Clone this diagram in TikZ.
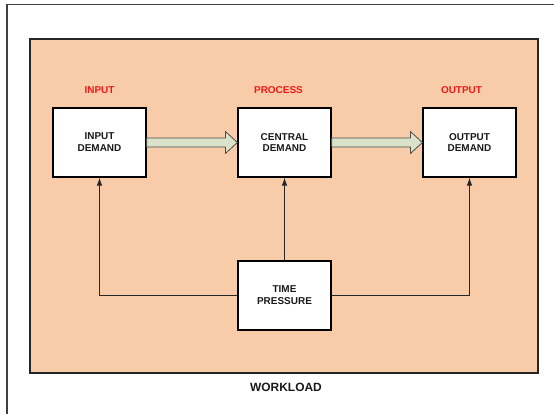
\documentclass[tikz,border=0pt]{standalone}
\usepackage{fontspec}
\setmainfont{Liberation Sans}
\usetikzlibrary{arrows.meta}
\definecolor{workloadfill}{RGB}{248,204,168}
\definecolor{arrowgreen}{RGB}{218,226,202}
\definecolor{stagered}{RGB}{240,24,24}
\begin{document}
\begin{tikzpicture}[x=1bp,y=-1bp,node distance=185bp]
    \tikzstyle{demand}=[draw=black, line width=1.2bp, fill=white, minimum width=93bp, minimum height=69bp, align=center, text=black!90, font=\fontsize{10}{12}\selectfont\bfseries]
    \tikzstyle{stage}=[text=stagered, font=\fontsize{10}{12}\selectfont\bfseries]
    \tikzstyle{fatarrow}=[draw=black!70, fill=arrowgreen, line width=0.8bp, line join=miter]
    \tikzstyle{feed}=[draw=black!85, line width=0.8bp, -{Latex[length=8bp,width=5.5bp]}]

    \useasboundingbox (0,0) rectangle (554,414);
    \draw[black!75, line width=1.5bp] (7,414) -- (7,4.5) -- (554,4.5);
    \draw[fill=workloadfill, draw=black!85, line width=1.2bp] (30,39) rectangle (538,373);

    \node[demand] (inputdemand) at (99.5,142.5) {INPUT\\DEMAND};
    \node[demand, right of=inputdemand] (central) {CENTRAL\\DEMAND};
    \node[demand, right of=central] (outputdemand) {OUTPUT\\DEMAND};
    \node[demand, below of=central, node distance=153bp] (timepressure) {TIME\\PRESSURE};

    \node[stage, above of=inputdemand, node distance=52bp] (input) {INPUT};
    \node[stage, above of=central, node distance=52bp, xshift=-6bp] (process) {PROCESS};
    \node[stage, above of=outputdemand, node distance=52bp, xshift=-8bp] (output) {OUTPUT};
    \node[font=\fontsize{12}{14}\selectfont\bfseries, text=black!90] (workload) at (286,387) {WORKLOAD};

    \foreach \from/\to in {inputdemand/central, central/outputdemand}
        \draw[fatarrow] ([yshift=4.5bp]\from.east) -- ([xshift=-12bp,yshift=4.5bp]\to.west)
            -- ([xshift=-12bp,yshift=11bp]\to.west) -- (\to.west)
            -- ([xshift=-12bp,yshift=-11bp]\to.west) -- ([xshift=-12bp,yshift=-4.5bp]\to.west)
            -- ([yshift=-4.5bp]\from.east) -- cycle;

    \draw[feed] (timepressure) -- (central);
    \draw[feed] (timepressure.west) -| (inputdemand);
    \draw[feed] (timepressure.east) -| (outputdemand);
\end{tikzpicture}
\end{document}
